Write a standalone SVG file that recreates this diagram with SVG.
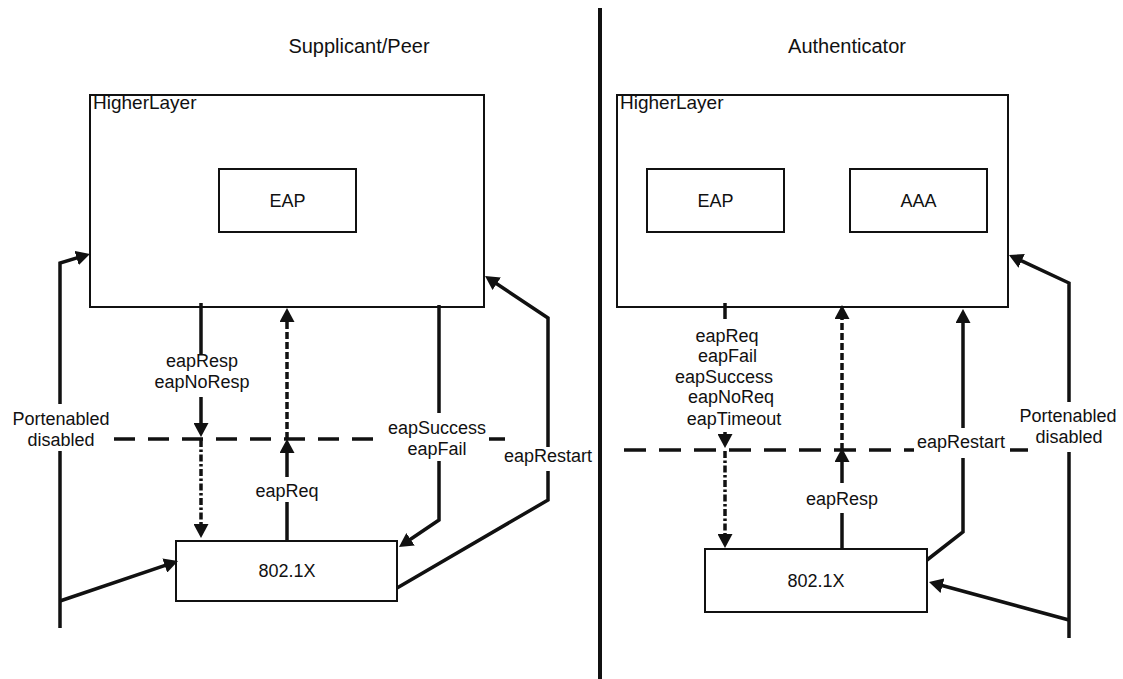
<svg xmlns="http://www.w3.org/2000/svg" width="1123" height="679" viewBox="0 0 1123 679">
<style>
.box{fill:#fff;stroke:#111;stroke-width:2}
.t{font-family:"Liberation Sans",Arial,sans-serif;font-size:18px;fill:#111;text-anchor:middle}
.ti{font-family:"Liberation Sans",Arial,sans-serif;font-size:20px;fill:#111;text-anchor:middle}
.tl{font-family:"Liberation Sans",Arial,sans-serif;font-size:19px;fill:#111}
.c{fill:none;stroke:#111;stroke-width:3.5;stroke-linejoin:miter}
.dash{stroke-dasharray:7 3}
.dashdot{stroke-dasharray:7 2.5 2.5 2.5}
.hd{fill:none;stroke:#111;stroke-width:3.5;stroke-dasharray:21 13}
.bg{fill:#fff}
</style>
<defs>
<marker id="ah" viewBox="0 0 14 15" refX="9" refY="7.5" markerWidth="14" markerHeight="15" markerUnits="userSpaceOnUse" orient="auto">
<path d="M0,0 L14,7.5 L0,15 z" fill="#111"/>
</marker>
</defs>
<rect width="1123" height="679" fill="#fff"/>

<text class="ti" x="359" y="53">Supplicant/Peer</text>
<text class="ti" x="847" y="53">Authenticator</text>
<line x1="600" y1="8" x2="600" y2="679" stroke="#111" stroke-width="4"/>

<g id="hl-left"><rect class="box" x="90" y="95" width="394" height="212"/><text class="tl" x="93" y="109">HigherLayer</text></g>
<g id="eap-left"><rect class="box" x="219" y="169" width="137" height="63"/><text class="t" x="287.5" y="207">EAP</text></g>
<g id="dot1x-left"><rect class="box" x="176" y="541" width="221" height="60"/><text class="t" x="287" y="577">802.1X</text></g>
<g id="hl-right"><rect class="box" x="617" y="95" width="391" height="212"/><text class="tl" x="620" y="109">HigherLayer</text></g>
<g id="eap-right"><rect class="box" x="647" y="169" width="137" height="63"/><text class="t" x="715.5" y="207">EAP</text></g>
<g id="aaa-right"><rect class="box" x="850" y="169" width="137" height="63"/><text class="t" x="918.5" y="207">AAA</text></g>
<g id="dot1x-right"><rect class="box" x="705" y="549" width="222" height="63"/><text class="t" x="816" y="587">802.1X</text></g>

<g id="connectors">
<line class="hd" x1="114" y1="439" x2="505" y2="439"/>
<line class="hd" x1="624" y1="450" x2="1028" y2="450" style="stroke-dasharray:22 13"/>
<polyline class="c" points="60,628 60,263 85.2,255.4" marker-end="url(#ah)"/>
<line class="c" x1="60" y1="601" x2="173.3" y2="562.6" marker-end="url(#ah)"/>
<line class="c" x1="201" y1="303" x2="201" y2="432" marker-end="url(#ah)"/>
<line class="c dashdot" x1="201" y1="440" x2="201" y2="533" marker-end="url(#ah)"/>
<line class="c" x1="287" y1="541" x2="287" y2="444" marker-end="url(#ah)"/>
<line class="c dash" x1="287" y1="439" x2="287" y2="313" marker-end="url(#ah)"/>
<polyline class="c" points="439,305 439,520 403.1,544.2" marker-end="url(#ah)"/>
<polyline class="c" points="397,588 548,500 548,318 489.2,278.8" marker-end="url(#ah)"/>
<polyline class="c" points="1069,638 1069,283 1013.5,257.1" marker-end="url(#ah)"/>
<line class="c" x1="1069" y1="620" x2="933.8" y2="583.3" marker-end="url(#ah)"/>
<line class="c" x1="725" y1="303" x2="725" y2="443" marker-end="url(#ah)"/>
<line class="c dashdot" x1="725" y1="451" x2="725" y2="543" marker-end="url(#ah)"/>
<line class="c" x1="842" y1="549" x2="842" y2="453" marker-end="url(#ah)"/>
<line class="c dash" x1="842" y1="450" x2="842" y2="310" marker-end="url(#ah)"/>
<polyline class="c" points="927,560 963,532 963,314" marker-end="url(#ah)"/>
</g>

<g id="labels">
<rect class="bg" x="8" y="404" width="106" height="47"/>
<text class="t" x="61" y="425">Portenabled</text><text class="t" x="61" y="446">disabled</text>
<rect class="bg" x="153" y="355" width="98" height="42"/>
<text class="t" x="202" y="367">eapResp</text><text class="t" x="202" y="388">eapNoResp</text>
<rect class="bg" x="250" y="477" width="74" height="25"/>
<text class="t" x="287" y="497">eapReq</text>
<rect class="bg" x="385" y="413" width="104" height="48"/>
<text class="t" x="437" y="434">eapSuccess</text><text class="t" x="437" y="455">eapFail</text>
<rect class="bg" x="502" y="447" width="92" height="24"/>
<text class="t" x="548" y="462">eapRestart</text>
<rect class="bg" x="672" y="319" width="118" height="113"/>
<text class="t" x="727" y="342">eapReq</text>
<text class="t" x="727.5" y="362">eapFail</text>
<text class="t" x="724" y="383">eapSuccess</text>
<text class="t" x="731" y="403">eapNoReq</text>
<text class="t" x="734" y="425">eapTimeout</text>
<rect class="bg" x="800" y="483" width="84" height="30"/>
<text class="t" x="842" y="505">eapResp</text>
<rect class="bg" x="914" y="428" width="96" height="30"/>
<text class="t" x="961" y="448">eapRestart</text>
<rect class="bg" x="1029" y="402" width="94" height="50"/>
<text class="t" x="1068" y="422">Portenabled</text><text class="t" x="1069" y="443">disabled</text>
</g>
</svg>
